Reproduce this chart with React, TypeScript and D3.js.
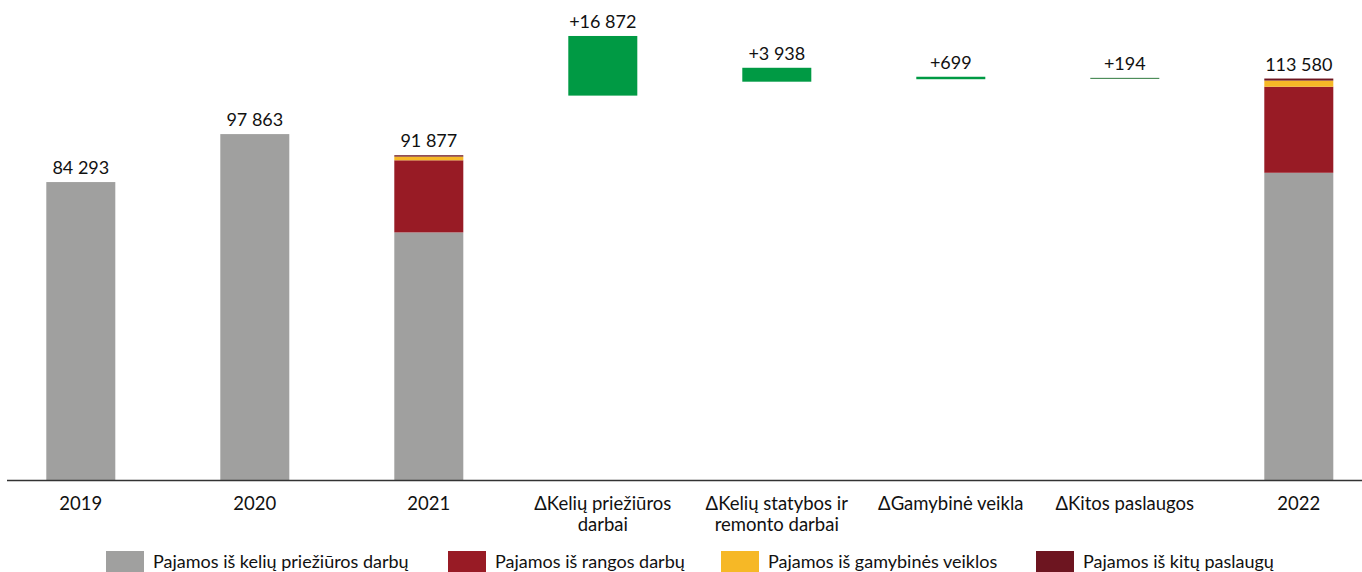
import React from "react";
import * as d3 from "d3";

const categories = [
  ["2019"],
  ["2020"],
  ["2021"],
  ["ΔKelių priežiūros", "darbai"],
  ["ΔKelių statybos ir", "remonto darbai"],
  ["ΔGamybinė veikla"],
  ["ΔKitos paslaugos"],
  ["2022"],
];

const seriesNames = [
  "Pajamos iš kelių priežiūros darbų",
  "Pajamos iš rangos darbų",
  "Pajamos iš gamybinės veiklos",
  "Pajamos iš kitų paslaugų",
];
const seriesColors = ["#a0a09f", "#981b25", "#f6b826", "#6d1520"];

// stacked totals: [maintenance, contracting, production, other]
const values2019 = [84293, 0, 0, 0];
const values2020 = [97863, 0, 0, 0];
const values2021 = [70050, 20400, 1050, 377];
const values2022 = [86922, 24338, 1749, 571];
const deltas = [16872, 3938, 699, 194];
const totalLabels = ["84 293", "97 863", "91 877", "113 580"];
const deltaLabels = ["+16 872", "+3 938", "+699", "+194"];

const W = 1362;
const H = 572;
const FONT = "Lato, 'Open Sans', sans-serif";

export default function App() {
  const x = d3
    .scaleBand<number>()
    .domain(d3.range(categories.length))
    .range([-6.2, 1385.8])
    .paddingInner(0.6034)
    .paddingOuter(0.3017);
  const y = d3.scaleLinear().domain([0, 130000]).range([480, 20.5]);
  const bw = x.bandwidth();

  const stacks = [
    { i: 0, vals: values2019, label: totalLabels[0] },
    { i: 1, vals: values2020, label: totalLabels[1] },
    { i: 2, vals: values2021, label: totalLabels[2] },
    { i: 7, vals: values2022, label: totalLabels[3] },
  ];

  const total2021 = d3.sum(values2021);
  let cum = total2021;
  const wf = deltas.map((d, j) => {
    cum += d;
    const bottom = cum;
    const top = cum + d;
    return { i: 3 + j, bottom, top, label: deltaLabels[j] };
  });

  const legendX = [106, 448, 721, 1036];

  return (
    <svg
      width={W}
      height={H}
      style={{ position: "absolute", left: 0, top: 0, background: "#fff" }}
      fontFamily={FONT}
    >
      {stacks.map((s) => {
        let acc = 0;
        const total = d3.sum(s.vals);
        return (
          <g key={s.i}>
            {s.vals.map((v, k) => {
              const y0 = y(acc);
              acc += v;
              const y1 = y(acc);
              if (v <= 0) return null;
              return (
                <rect
                  key={k}
                  x={x(s.i)}
                  y={y1}
                  width={bw}
                  height={y0 - y1}
                  fill={seriesColors[k]}
                />
              );
            })}
            <text
              x={(x(s.i) as number) + bw / 2}
              y={y(total) - 8}
              textAnchor="middle"
              fontSize={18}
              fill="#111"
            >
              {s.label}
            </text>
          </g>
        );
      })}
      {wf.map((b) => (
        <g key={b.i}>
          <rect
            x={x(b.i)}
            y={y(b.top)}
            width={bw}
            height={Math.max(y(b.bottom) - y(b.top), 1)}
            fill={b.top - b.bottom < 300 ? "#2f7a3f" : "#009a44"}
          />
          <text
            x={(x(b.i) as number) + bw / 2}
            y={y(b.top) - 8}
            textAnchor="middle"
            fontSize={18}
            fill="#111"
          >
            {b.label}
          </text>
        </g>
      ))}
      <line x1={7} x2={W} y1={480.5} y2={480.5} stroke="#333" strokeWidth={1.3} />
      {categories.map((lines, i) =>
        lines.map((l, j) => (
          <text
            key={`${i}-${j}`}
            x={(x(i) as number) + bw / 2}
            y={510 + j * 21}
            textAnchor="middle"
            fontSize={18.5}
            fill="#111"
          >
            {l}
          </text>
        ))
      )}
      {seriesNames.map((n, k) => (
        <g key={n}>
          <rect x={legendX[k]} y={551} width={38} height={21} fill={seriesColors[k]} />
          <text x={legendX[k] + 47} y={568} fontSize={18} fill="#111">
            {n}
          </text>
        </g>
      ))}
    </svg>
  );
}
